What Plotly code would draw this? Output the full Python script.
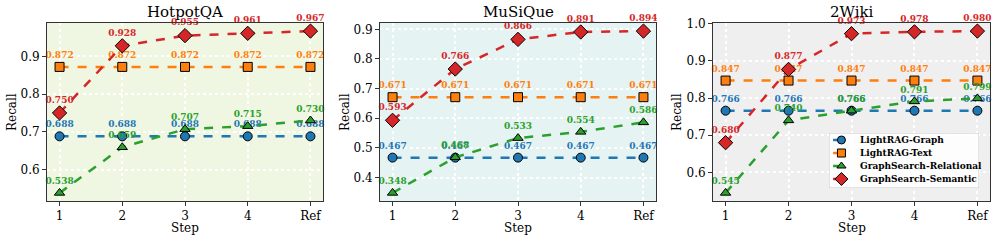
import plotly.graph_objects as go

steps = ["1", "2", "3", "4", "Ref"]
datasets = ["HotpotQA", "MuSiQue", "2Wiki"]
series_names = ["LightRAG-Graph", "LightRAG-Text", "GraphSearch-Relational", "GraphSearch-Semantic"]

hotpot_graph = [0.688, 0.688, 0.688, 0.688, 0.688]
hotpot_text = [0.872, 0.872, 0.872, 0.872, 0.872]
hotpot_rel = [0.538, 0.659, 0.707, 0.715, 0.730]
hotpot_sem = [0.750, 0.928, 0.955, 0.961, 0.967]

musique_graph = [0.467, 0.467, 0.467, 0.467, 0.467]
musique_text = [0.671, 0.671, 0.671, 0.671, 0.671]
musique_rel = [0.348, 0.468, 0.533, 0.554, 0.586]
musique_sem = [0.593, 0.766, 0.866, 0.891, 0.894]

wiki_graph = [0.766, 0.766, 0.766, 0.766, 0.766]
wiki_text = [0.847, 0.847, 0.847, 0.847, 0.847]
wiki_rel = [0.545, 0.740, 0.766, 0.791, 0.799]
wiki_sem = [0.680, 0.877, 0.973, 0.978, 0.980]

panel_data = [
    [hotpot_graph, hotpot_text, hotpot_rel, hotpot_sem],
    [musique_graph, musique_text, musique_rel, musique_sem],
    [wiki_graph, wiki_text, wiki_rel, wiki_sem],
]

colors = ["#1f77b4", "#ff7f0e", "#2ca02c", "#d62728"]
symbols = ["circle", "square", "triangle-up", "diamond"]
msizes = [9, 9, 9, 11]
bgcolors = ["#eff7e3", "#e5f3f3", "#efefef"]

W, H = 997, 241
xdoms = [(47 / W, 323 / W), (380 / W, 656 / W), (713 / W, 990 / W)]
ydom = (1 - 201 / H, 1 - 23 / H)
ylabel_x = [12 / W, 345 / W, 677 / W]

FONT = "DejaVu Serif"
fig = go.Figure()

layout = dict(
    width=W, height=H, margin=dict(l=0, r=0, t=0, b=0),
    paper_bgcolor="white", plot_bgcolor="rgba(0,0,0,0)",
    font=dict(family=FONT, size=12, color="black"),
    showlegend=False,
)
shapes = []
annotations = []

xvals = [1, 2, 3, 4, 5]
for p in range(3):
    xa = "x" if p == 0 else f"x{p+1}"
    ya = "y" if p == 0 else f"y{p+1}"
    for s in range(4):
        vals = panel_data[p][s]
        fig.add_trace(go.Scatter(
            x=xvals, y=vals, xaxis=xa, yaxis=ya,
            mode="lines+markers+text",
            name=series_names[s],
            line=dict(color=colors[s], width=2.5, dash="dash"),
            marker=dict(symbol=symbols[s], size=msizes[s], color=colors[s],
                        line=dict(color="black", width=1)),
            text=[f"{v:.3f}" for v in vals], textposition="top center",
            textfont=dict(family=FONT, size=9, color=colors[s], weight="bold"),
            cliponaxis=False,
        ))
    allv = [v for ser in panel_data[p] for v in ser]
    lo, hi = min(allv), max(allv)
    pad = (hi - lo) * 0.05
    axkey = "xaxis" if p == 0 else f"xaxis{p+1}"
    aykey = "yaxis" if p == 0 else f"yaxis{p+1}"
    layout[axkey] = dict(
        domain=list(xdoms[p]), anchor=ya, range=[0.8, 5.2], automargin=False,
        tickmode="array", tickvals=xvals, ticktext=steps,
        showgrid=True, gridcolor="white", gridwidth=1.5, griddash="dot",
        showline=True, linecolor="#333333", linewidth=1, mirror=True,
        ticks="outside", ticklen=4, tickcolor="#333333",
        tickfont=dict(family=FONT, size=12), zeroline=False,
    )
    layout[aykey] = dict(
        domain=list(ydom), anchor=xa, range=[lo - pad, hi + pad], automargin=False,
        dtick=0.1, tickformat=".1f",
        showgrid=True, gridcolor="white", gridwidth=1.5, griddash="dot",
        showline=True, linecolor="#333333", linewidth=1, mirror=True,
        ticks="outside", ticklen=4, tickcolor="#333333",
        tickfont=dict(family=FONT, size=12), zeroline=False,
    )
    shapes.append(dict(type="rect", xref=f"{xa} domain", yref=f"{ya} domain",
                       x0=0, x1=1, y0=0, y1=1, fillcolor=bgcolors[p],
                       line=dict(width=0), layer="below"))
    annotations.append(dict(text=datasets[p], xref="paper", yref="paper",
                            x=(xdoms[p][0] + xdoms[p][1]) / 2, y=1 - 12 / H,
                            xanchor="center", yanchor="middle", showarrow=False,
                            font=dict(family=FONT, size=15, color="black")))
    annotations.append(dict(text="Recall", xref="paper", yref="paper",
                            x=ylabel_x[p], y=(ydom[0] + ydom[1]) / 2, textangle=-90,
                            xanchor="center", yanchor="middle", showarrow=False,
                            font=dict(family=FONT, size=12, color="black")))
    annotations.append(dict(text="Step", xref="paper", yref="paper",
                            x=(xdoms[p][0] + xdoms[p][1]) / 2, y=1 - 228 / H,
                            xanchor="center", yanchor="middle", showarrow=False,
                            font=dict(family=FONT, size=12, color="black")))

# Legend (drawn on a hidden overlay axis placed in the 2Wiki panel)
leg_dom_x = [829 / W, 979 / W]
leg_dom_y = [1 - 188 / H, 1 - 133 / H]
layout["xaxis4"] = dict(domain=leg_dom_x, range=[0, 1], visible=False, fixedrange=True, anchor="y4")
layout["yaxis4"] = dict(domain=leg_dom_y, range=[0, 1], visible=False, fixedrange=True, anchor="x4")
fig.add_trace(go.Scatter(x=[0, 1, 1, 0, 0], y=[0, 0, 1, 1, 0], xaxis="x4", yaxis="y4",
                         mode="lines", fill="toself", fillcolor="rgba(255,255,255,0.85)",
                         line=dict(color="#c8c8c8", width=1), hoverinfo="skip", cliponaxis=False))
row_y = [0.873, 0.636, 0.40, 0.164]
for s in range(4):
    fig.add_trace(go.Scatter(x=[0.027, 0.14], y=[row_y[s], row_y[s]], xaxis="x4", yaxis="y4",
                             mode="lines", line=dict(color=colors[s], width=2.5, dash="dash"),
                             hoverinfo="skip", cliponaxis=False))
    fig.add_trace(go.Scatter(x=[0.083], y=[row_y[s]], xaxis="x4", yaxis="y4",
                             mode="markers", marker=dict(symbol=symbols[s], size=msizes[s] - 1,
                             color=colors[s], line=dict(color="black", width=1)),
                             hoverinfo="skip", cliponaxis=False))
    annotations.append(dict(text=f"<b>{series_names[s]}</b>", xref="x4", yref="y4",
                            x=0.193, y=row_y[s], xanchor="left", yanchor="middle", showarrow=False,
                            font=dict(family=FONT, size=9, color="black")))

layout["shapes"] = shapes
layout["annotations"] = annotations
fig.update_layout(**layout)
fig.write_html("out.html", config={"displayModeBar": False},
               post_script="document.body.style.margin='0';document.body.style.padding='0';")
